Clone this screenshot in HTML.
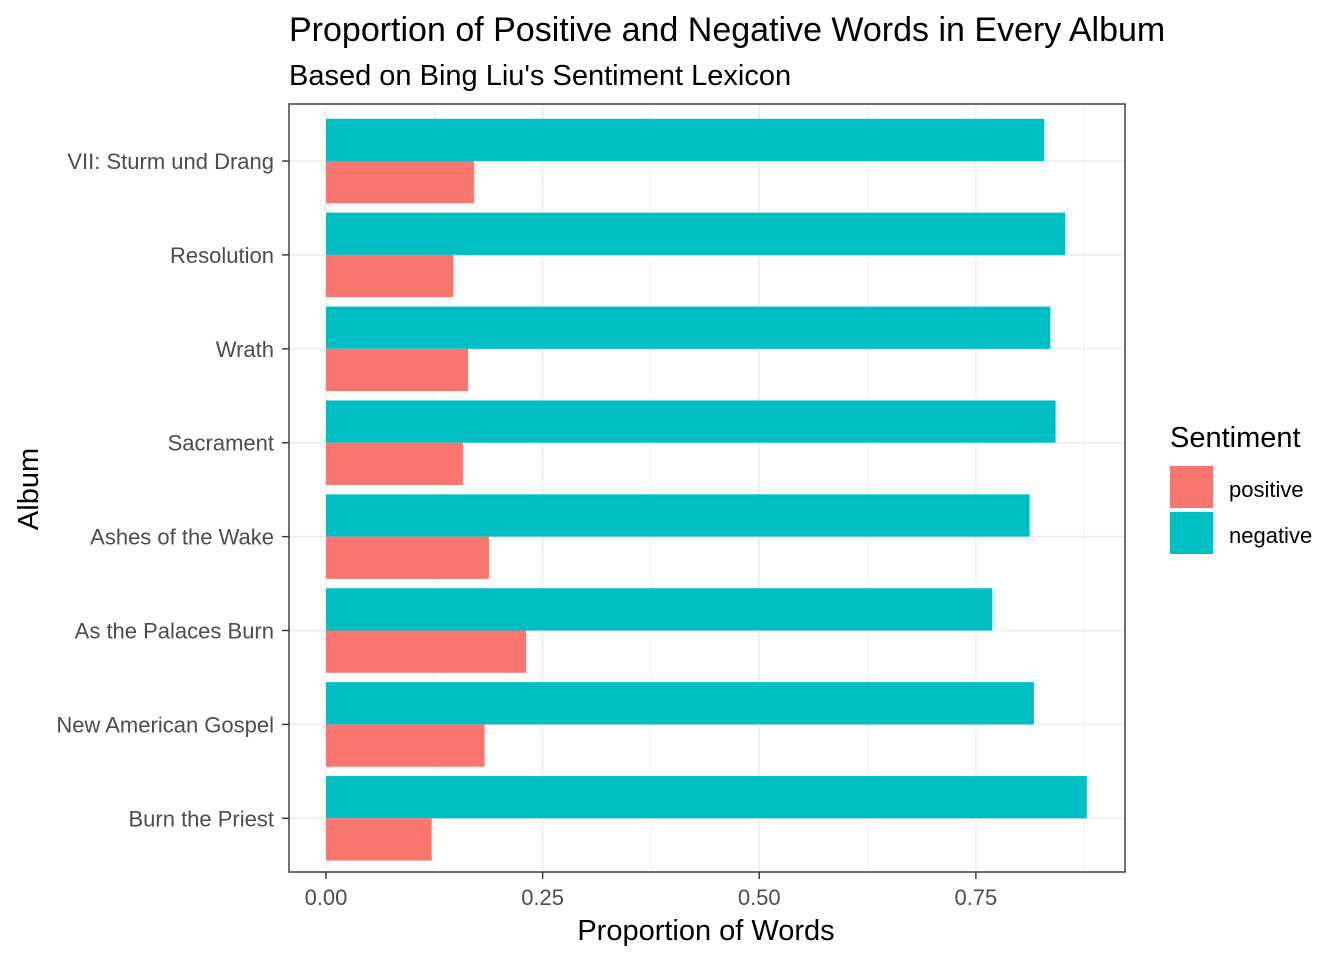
<!DOCTYPE html>
<html><head><meta charset="utf-8"><style>
body{margin:0;background:#fff;font-family:"Liberation Sans",sans-serif;}
</style></head><body>
<svg id="chart" width="1344" height="960" xmlns="http://www.w3.org/2000/svg" font-family="Liberation Sans, sans-serif">
<text x="289" y="41" font-size="34" fill="#000">Proportion of Positive and Negative Words in Every Album</text>
<text x="289" y="85" font-size="29" fill="#000">Based on Bing Liu's Sentiment Lexicon</text>
<g id="grid"></g>
<g id="bars"></g>
<rect x="289" y="104" width="836" height="768" fill="none" stroke="#333" stroke-width="1.4"/>
<g id="axes"></g>
<text x="706" y="940" font-size="29" text-anchor="middle">Proportion of Words</text>
<text transform="translate(38,489) rotate(-90)" font-size="29" text-anchor="middle">Album</text>
<g>
<text x="1170" y="447" font-size="29">Sentiment</text>
<rect x="1170" y="466" width="43" height="42" fill="#F8766D"/>
<text x="1229" y="497" font-size="22">positive</text>
<rect x="1170" y="512" width="43" height="42" fill="#00BFC4"/>
<text x="1229" y="543" font-size="22">negative</text>
</g>
</svg>
<script>
const albums=["VII: Sturm und Drang","Resolution","Wrath","Sacrament","Ashes of the Wake","As the Palaces Burn","New American Gospel","Burn the Priest"];
const negative=[0.829,0.853,0.836,0.842,0.812,0.769,0.817,0.878];
const positive=[0.171,0.147,0.164,0.158,0.188,0.231,0.183,0.122];
const xTicks=[0,0.25,0.5,0.75];
const xTickLabels=["0.00","0.25","0.50","0.75"];
const NS="http://www.w3.org/2000/svg";
const x=v=>326+v*866.5;
const yc=i=>161+i*93.9;
const band=84.5;
function mk(tag,attrs,parent,text){const e=document.createElementNS(NS,tag);for(const k in attrs)e.setAttribute(k,attrs[k]);if(text!==undefined)e.textContent=text;document.getElementById(parent).appendChild(e);return e;}
[0.125,0.375,0.625,0.875].forEach(v=>{const l=mk("line",{x1:x(v),x2:x(v),y1:104,y2:872,stroke:"#ebebeb","stroke-width":0.8},"grid");

});
xTicks.forEach(v=>{const l=mk("line",{x1:x(v),x2:x(v),y1:104,y2:872,stroke:"#ebebeb","stroke-width":1.5},"grid");

});
albums.forEach((a,i)=>{const l=mk("line",{x1:289,x2:1125,y1:yc(i),y2:yc(i),stroke:"#ebebeb","stroke-width":1.5},"grid");

});
albums.forEach((a,i)=>{
const n=mk("rect",{x:x(0),y:yc(i)-band/2,width:x(negative[i])-x(0),height:band/2,fill:"#00BFC4"},"bars");


const p=mk("rect",{x:x(0),y:yc(i),width:x(positive[i])-x(0),height:band/2,fill:"#F8766D"},"bars");


const t=mk("line",{x1:282,x2:289,y1:yc(i),y2:yc(i),stroke:"#333","stroke-width":1.4},"axes");


const lb=mk("text",{x:274,y:yc(i)+8,"font-size":22,fill:"#4d4d4d","text-anchor":"end"},"axes",a);


});
xTicks.forEach((v,i)=>{
const t=mk("line",{x1:x(v),x2:x(v),y1:872,y2:879,stroke:"#333","stroke-width":1.4},"axes");


const lb=mk("text",{x:x(v),y:905,"font-size":22,fill:"#4d4d4d","text-anchor":"middle"},"axes",xTickLabels[i]);


});
</script>
</body></html>
